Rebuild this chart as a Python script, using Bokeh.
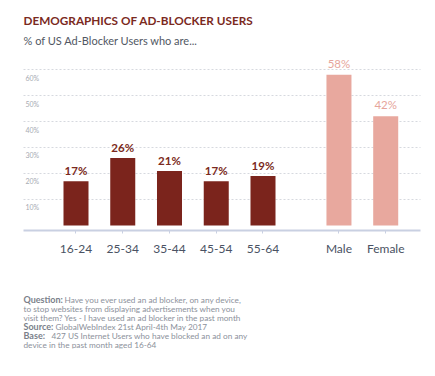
from bokeh.plotting import figure
from bokeh.models import ColumnDataSource, LabelSet, Label, FixedTicker, Range1d
from bokeh.core.properties import value
from bokeh.embed import file_html
from bokeh.resources import INLINE

# ---- data ----
age_groups = ["16-24", "25-34", "35-44", "45-54", "55-64"]
age_values = [17, 26, 21, 17, 19]
gender_groups = ["Male", "Female"]
gender_values = [58, 42]
y_ticks = [10, 20, 30, 40, 50, 60]
y_tick_labels = ["10%", "20%", "30%", "40%", "50%", "60%"]

title_text = "DEMOGRAPHICS OF AD-BLOCKER USERS"
subtitle_text = "% of US Ad-Blocker Users who are..."
notes = [
    ("Question:", "Have you ever used an ad blocker, on any device,"),
    ("", "to stop websites from displaying advertisements when you"),
    ("", "visit them? Yes - I have used an ad blocker in the past month"),
    ("Source:", "GlobalWebIndex 21st April-4th May 2017"),
    ("Base:", "427 US Internet Users who have blocked an ad on any"),
    ("", "device in the past month aged 16-64"),
]

# ---- layout helpers ----
GAP = 0.625
age_x = [float(i) for i in range(len(age_groups))]
gender_x = [len(age_groups) + GAP + i for i in range(len(gender_groups))]
PLOT_X0, PLOT_X1 = -1.123, 7.369      # extent of axis line / gridlines
AXIS_Y = -1.923                        # where the category axis sits

DARK = "#7b241c"
LIGHT = "#e8a89e"
FONT = "Lato"

p = figure(width=435, height=376, output_backend="svg", toolbar_location=None,
           x_range=Range1d(-1.615, 7.690), y_range=Range1d(-47.31, 86.54),
           y_axis_location=None, min_border_left=0, min_border_right=0,
           min_border_top=0, min_border_bottom=28)
p.outline_line_color = None
p.background_fill_color = "white"
p.border_fill_color = "white"
p.xgrid.visible = False
p.ygrid.visible = False

# dashed gridlines
p.segment(x0=PLOT_X0, x1=PLOT_X1, y0=y_ticks, y1=y_ticks,
          line_color="#d6d9df", line_dash="2 2", line_width=1)

age_src = ColumnDataSource(dict(x=age_x, v=age_values, lab=[f"{v}%" for v in age_values]))
gen_src = ColumnDataSource(dict(x=gender_x, v=gender_values, lab=[f"{v}%" for v in gender_values]))

p.vbar(x="x", top="v", bottom=0, width=0.535, source=age_src, fill_color=DARK, line_color=None)
p.vbar(x="x", top="v", bottom=0, width=0.535, source=gen_src, fill_color=LIGHT, line_color=None)

p.add_layout(LabelSet(x="x", y="v", text="lab", source=age_src, y_offset=6,
                      text_align="center", text_baseline="alphabetic",
                      text_font=value(FONT), text_font_size="11.5px", text_font_style="bold",
                      text_color="#7b2a20"))
p.add_layout(LabelSet(x="x", y="v", text="lab", source=gen_src, y_offset=7,
                      text_align="center", text_baseline="alphabetic",
                      text_font=value(FONT), text_font_size="11.5px",
                      text_color="#e6a59b"))

ysrc = ColumnDataSource(dict(y=y_ticks, lab=y_tick_labels))
p.add_layout(LabelSet(x=25, y="y", x_units="screen", text="lab", source=ysrc, y_offset=-4,
                      text_align="left", text_baseline="top",
                      text_font=value(FONT), text_font_size="7px", text_color="#a7abb3"))

ax = p.xaxis[0]
ax.fixed_location = AXIS_Y
ax.bounds = (PLOT_X0, PLOT_X1)
ax.ticker = FixedTicker(ticks=age_x + gender_x)
ax.major_label_overrides = dict(zip(age_x + gender_x, age_groups + gender_groups))
ax.axis_line_color = "#c9d0e2"
ax.axis_line_width = 2
ax.major_tick_line_color = "#c9d0e2"
ax.major_tick_in = 0
ax.major_tick_out = 3
ax.minor_tick_line_color = None
ax.major_label_standoff = 8
ax.major_label_text_font = FONT
ax.major_label_text_font_size = "12px"
ax.major_label_text_color = "#4a5263"

p.add_layout(Label(x=23, y=20, x_units="canvas", y_units="canvas", text=title_text,
                   text_font=FONT, text_font_size="11.75px", text_font_style="bold",
                   text_color="#7b2a1e", text_baseline="alphabetic"))
p.add_layout(Label(x=23, y=40, x_units="canvas", y_units="canvas", text=subtitle_text,
                   text_font=FONT, text_font_size="11px",
                   text_color="#515763", text_baseline="alphabetic"))

prefix_w = {"Question:": 41, "Source:": 32, "Base:": 28}
for i, (b, t) in enumerate(notes):
    y = 299 + 9 * i
    xoff = 23
    if b:
        p.add_layout(Label(x=23, y=y, x_units="canvas", y_units="canvas", text=b,
                           text_font=FONT, text_font_size="9px", text_font_style="bold",
                           text_color="#7a7f8a", text_baseline="alphabetic"))
        xoff = 23 + prefix_w[b]
    p.add_layout(Label(x=xoff, y=y, x_units="canvas", y_units="canvas", text=t,
                       text_font=FONT, text_font_size="8.25px",
                       text_color="#8c919b", text_baseline="alphabetic"))

open("out.html", "w").write(file_html(p, INLINE))
